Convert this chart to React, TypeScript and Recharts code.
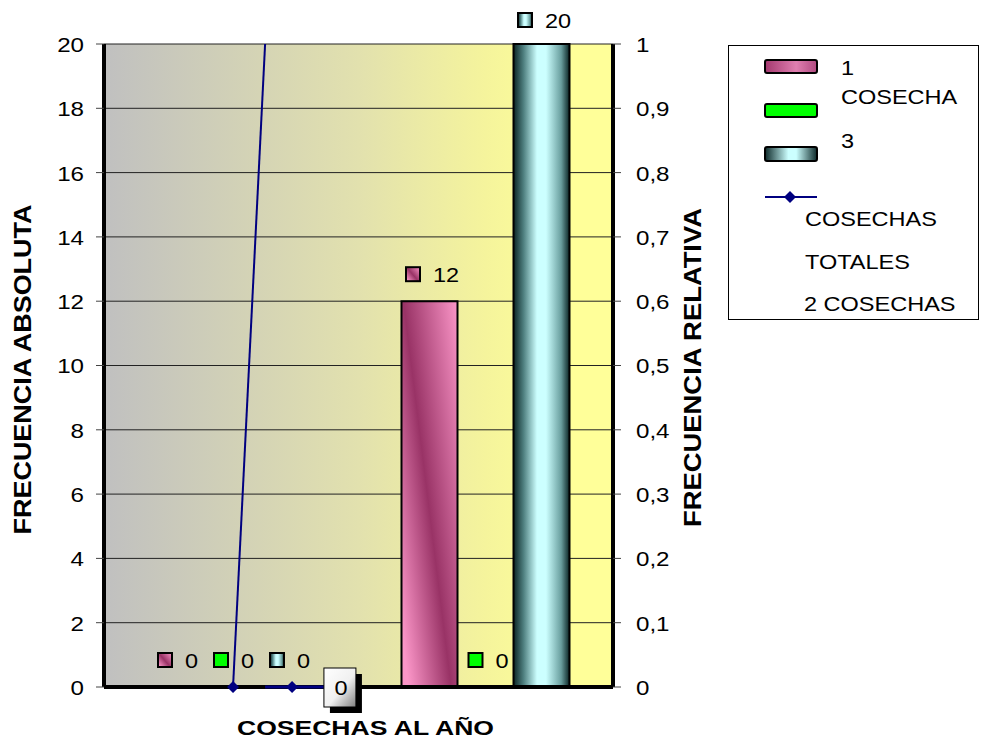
import React from 'react';
import {
  ComposedChart,
  Bar,
  Line,
  XAxis,
  YAxis,
  CartesianGrid,
  LabelList,
  Legend,
} from 'recharts';

// ---------- data ----------
const categories = ['1', '2'];
const unaCosecha = [0, 12];
const dosCosechas = [0, 0];
const tresCosechas = [0, 20];

const absTicks = [0, 2, 4, 6, 8, 10, 12, 14, 16, 18, 20];
const relTicks = [0, 0.1, 0.2, 0.3, 0.4, 0.5, 0.6, 0.7, 0.8, 0.9, 1];

// COSECHAS TOTALES, drawn on a secondary (hidden-scale) axis
const subidaPos = [0.507, 0.633];
const subidaVal = [0, 1];
const basePos = [0.633, 0.739, 0.927];
const baseVal = [0, 0, 0];

const seriesNames = ['1 COSECHA', '2 COSECHAS', '3 COSECHAS', 'COSECHAS TOTALES'];

const data = categories.map((c, i) => ({
  cat: c,
  uno: unaCosecha[i],
  dos: dosCosechas[i],
  tres: tresCosechas[i],
}));
const subidaData = subidaPos.map((p, i) => ({ pos: p, val: subidaVal[i] }));
const baseData = basePos.map((p, i) => ({ pos: p, val: baseVal[i] }));

// ---------- styling helpers ----------
const FONT = '"Liberation Sans", Arial, sans-serif';
const NAVY = '#000080';

const SText = ({ x, y, children, anchor = 'start', size = 20, weight = 'normal', sx = 1.2 }: any) => (
  <text
    transform={`translate(${x},${y}) scale(${sx},1)`}
    textAnchor={anchor}
    dominantBaseline="central"
    fontSize={size}
    fontWeight={weight}
    fontFamily={FONT}
    fill="#000"
  >
    {children}
  </text>
);

const LeftTick = (props: any) => {
  const { x, y, payload } = props;
  return <SText x={x} y={y + 1} anchor="end" size={21} sx={1.15}>{payload.value}</SText>;
};

const fmtRel = (v: number) => String(Math.round(v * 10) / 10).replace('.', ',');

const RightTick = (props: any) => {
  const { x, y, payload } = props;
  return <SText x={x} y={y + 1} anchor="start" size={21} sx={1.15}>{fmtRel(payload.value)}</SText>;
};

const makeBarTag = (fill: string) => (props: any) => {
  const { x, y, width, height, value } = props;
  const cx = Number(x) + Number(width) / 2;
  const txt = String(value);
  const tw = txt.length * 13;
  const left = cx + 3 - (27 + tw) / 2;
  const top = Number(value) === 0 ? Number(y) + Number(height) : Number(y);
  const cy = Math.max(top - 27, 12);
  return (
    <g>
      <rect x={left} y={cy - 7} width={14} height={14} fill={fill} stroke="#000" strokeWidth={2} />
      <SText x={left + 27} y={cy + 1} size={21} sx={1.12}>{txt}</SText>
    </g>
  );
};

const Diamond = (props: any) => {
  const { cx, cy, index, show } = props;
  if (cx == null || cy == null || !show.includes(index)) return <g key={`d${index}`} />;
  return (
    <path
      key={`d${index}`}
      d={`M${cx},${cy - 6} L${cx + 6},${cy} L${cx},${cy + 6} L${cx - 6},${cy} Z`}
      fill={NAVY}
    />
  );
};

const BoxLabel = (props: any) => {
  const { x, y, index, value } = props;
  if (index !== 2) return null;
  const bx = Number(x);
  const by = Number(y);
  return (
    <g>
      <rect x={bx - 16 + 6} y={by - 19 + 6} width={32} height={39} fill="#000" />
      <rect x={bx - 16} y={by - 19} width={32} height={39} fill="url(#gBox)" stroke="#000" strokeWidth={1} />
      <SText x={bx + 1} y={by + 1} anchor="middle" size={21} sx={1.12}>{String(value)}</SText>
    </g>
  );
};

const renderLegend = () => (
  <svg width={252} height={276} style={{ display: 'block' }}>
    <rect x={0.5} y={0.5} width={250} height={274} fill="#fff" stroke="#000" strokeWidth={1} />
    <rect x={37} y={15} width={52} height={13} rx={2} fill="url(#gPinkL)" stroke="#000" strokeWidth={2} />
    <rect x={37} y={59} width={52} height={13} rx={2} fill="#00ff00" stroke="#000" strokeWidth={2} />
    <rect x={37} y={102} width={52} height={14} rx={2} fill="url(#gCyanL)" stroke="#000" strokeWidth={2} />
    <line x1={37} y1={152} x2={89} y2={152} stroke={NAVY} strokeWidth={2} />
    <path d="M62,146 L68,152 L62,158 L56,152 Z" fill={NAVY} />
    <SText x={113} y={23} size={21} sx={1.12}>1</SText>
    <SText x={113} y={52} size={21} sx={1.12}>COSECHA</SText>
    <SText x={113} y={96} size={21} sx={1.12}>3</SText>
    <SText x={77} y={174} size={21} sx={1.12}>COSECHAS</SText>
    <SText x={77} y={217} size={21} sx={1.12}>TOTALES</SText>
    <SText x={76} y={259} size={21} sx={1.12}>2 COSECHAS</SText>
    <defs>
      <linearGradient id="gPinkL" x1="0" y1="0" x2="1" y2="0">
        <stop offset="0" stopColor="#a3386e" />
        <stop offset="0.6" stopColor="#e07fb0" />
        <stop offset="1" stopColor="#b04a80" />
      </linearGradient>
      <linearGradient id="gCyanL" x1="0" y1="0" x2="1" y2="0">
        <stop offset="0" stopColor="#0d2a2a" />
        <stop offset="0.45" stopColor="#ccffff" />
        <stop offset="0.6" stopColor="#ccffff" />
        <stop offset="1" stopColor="#0d2a2a" />
      </linearGradient>
    </defs>
  </svg>
);

const LeftTitle = (props: any) => {
  const vb = props.viewBox || {};
  const x = vb.x + 8;
  const y = vb.y + vb.height / 2 + 4;
  return (
    <text
      x={x}
      y={y}
      transform={`rotate(-90,${x},${y})`}
      textAnchor="middle"
      dominantBaseline="central"
      fontSize={24}
      fontWeight="bold"
      fontFamily={FONT}
      textLength={330}
      lengthAdjust="spacingAndGlyphs"
      fill="#000"
    >
      FRECUENCIA ABSOLUTA
    </text>
  );
};

const RightTitle = (props: any) => {
  const vb = props.viewBox || {};
  const x = vb.x + 79;
  const y = vb.y + vb.height / 2 + 2;
  return (
    <text
      x={x}
      y={y}
      transform={`rotate(-90,${x},${y})`}
      textAnchor="middle"
      dominantBaseline="central"
      fontSize={24}
      fontWeight="bold"
      fontFamily={FONT}
      textLength={319}
      lengthAdjust="spacingAndGlyphs"
      fill="#000"
    >
      FRECUENCIA RELATIVA
    </text>
  );
};

const BottomTitle = (props: any) => {
  const vb = props.viewBox || {};
  const x = vb.x + vb.width / 2 + 7;
  const y = vb.y + 41;
  return (
    <text
      x={x}
      y={y}
      textAnchor="middle"
      dominantBaseline="central"
      fontSize={20}
      fontWeight="bold"
      fontFamily={FONT}
      textLength={257}
      lengthAdjust="spacingAndGlyphs"
      fill="#000"
    >
      COSECHAS AL AÑO
    </text>
  );
};

export default function App() {
  return (
    <div style={{ position: 'absolute', left: 8, top: 8, width: 973, height: 735, fontFamily: FONT }}>
      <ComposedChart
        width={973}
        height={735}
        data={data}
        margin={{ top: 36, right: 268, bottom: 36, left: 6 }}
        barGap={0}
        barSize={56}
      >
        <defs>
          <linearGradient id="gBg" x1="0" y1="0" x2="1" y2="0">
            <stop offset="0" stopColor="#c0c0c0" />
            <stop offset="0.5" stopColor="#e2e1ae" />
            <stop offset="0.75" stopColor="#f5f49c" />
            <stop offset="0.9" stopColor="#ffff99" />
            <stop offset="1" stopColor="#ffff99" />
          </linearGradient>
          <linearGradient id="gPink" x1="0" y1="0.85" x2="1" y2="0">
            <stop offset="0" stopColor="#fb96c8" />
            <stop offset="0.44" stopColor="#993366" />
            <stop offset="1" stopColor="#fb96c8" />
          </linearGradient>
          <linearGradient id="gCyan" x1="0" y1="0" x2="1" y2="0">
            <stop offset="0" stopColor="#0a2424" />
            <stop offset="0.18" stopColor="#4f8080" />
            <stop offset="0.42" stopColor="#ccffff" />
            <stop offset="0.58" stopColor="#ccffff" />
            <stop offset="0.85" stopColor="#6a9f9f" />
            <stop offset="1" stopColor="#0a2424" />
          </linearGradient>
          <linearGradient id="gBox" x1="0" y1="0" x2="1" y2="1">
            <stop offset="0" stopColor="#ffffff" />
            <stop offset="0.55" stopColor="#f0f0f0" />
            <stop offset="1" stopColor="#808080" />
          </linearGradient>
        </defs>

        <CartesianGrid
          xAxisId="cat"
          yAxisId="abs"
          vertical={false}
          stroke="#222"
          strokeWidth={1}
          fill="url(#gBg)"
          fillOpacity={1}
        />

        <XAxis
          xAxisId="cat"
          dataKey="cat"
          type="category"
          height={20}
          tick={false}
          tickLine={false}
          axisLine={{ stroke: '#000', strokeWidth: 4 }}
          label={<BottomTitle />}
        />
        <XAxis
          xAxisId="pos"
          dataKey="pos"
          type="number"
          orientation="top"
          domain={[0, 2]}
          height={0}
          tick={false}
          tickLine={false}
          axisLine={{ stroke: '#000', strokeWidth: 4 }}
        />
        <YAxis
          yAxisId="abs"
          orientation="left"
          domain={[0, 20]}
          ticks={absTicks}
          interval={0}
          width={90}
          tickSize={8}
          tickMargin={12}
          tickLine={{ stroke: '#444', strokeWidth: 1 }}
          axisLine={{ stroke: '#000', strokeWidth: 4 }}
          tick={<LeftTick />}
          label={<LeftTitle />}
        />
        <YAxis
          yAxisId="rel"
          orientation="right"
          domain={[0, 1]}
          ticks={relTicks}
          interval={0}
          width={100}
          tickSize={8}
          tickMargin={15}
          tickLine={{ stroke: '#444', strokeWidth: 1 }}
          axisLine={{ stroke: '#000', strokeWidth: 4 }}
          tick={<RightTick />}
          label={<RightTitle />}
        />

        <Bar xAxisId="cat" yAxisId="abs" dataKey="uno" name={seriesNames[0]} fill="url(#gPink)" stroke="#000" strokeWidth={2} minPointSize={1} isAnimationActive={false}>
          <LabelList dataKey="uno" content={makeBarTag('url(#gPink)')} />
        </Bar>
        <Bar xAxisId="cat" yAxisId="abs" dataKey="dos" name={seriesNames[1]} fill="#00ff00" stroke="#000" strokeWidth={2} minPointSize={1} isAnimationActive={false}>
          <LabelList dataKey="dos" content={makeBarTag('#00ff00')} />
        </Bar>
        <Bar xAxisId="cat" yAxisId="abs" dataKey="tres" name={seriesNames[2]} fill="url(#gCyan)" stroke="#000" strokeWidth={2} minPointSize={1} isAnimationActive={false}>
          <LabelList dataKey="tres" content={makeBarTag('url(#gCyan)')} />
        </Bar>

        <Line
          xAxisId="pos"
          yAxisId="rel"
          data={subidaData}
          dataKey="val"
          name={seriesNames[3]}
          stroke={NAVY}
          strokeWidth={2}
          dot={(p: any) => <Diamond {...p} show={[0]} />}
          activeDot={false}
          isAnimationActive={false}
          zIndex={600}
        />
        <Line
          xAxisId="pos"
          yAxisId="rel"
          data={baseData}
          dataKey="val"
          name={seriesNames[3] + ' '}
          stroke={NAVY}
          strokeWidth={3}
          dot={(p: any) => <Diamond {...p} show={[1]} />}
          activeDot={false}
          legendType="none"
          isAnimationActive={false}
          zIndex={600}
        >
          <LabelList dataKey="val" content={<BoxLabel />} />
        </Line>

        <Legend
          layout="vertical"
          align="center"
          verticalAlign="middle"
          wrapperStyle={{ left: 720, top: 37, width: 252, height: 276 }}
          content={renderLegend}
        />
      </ComposedChart>
    </div>
  );
}
